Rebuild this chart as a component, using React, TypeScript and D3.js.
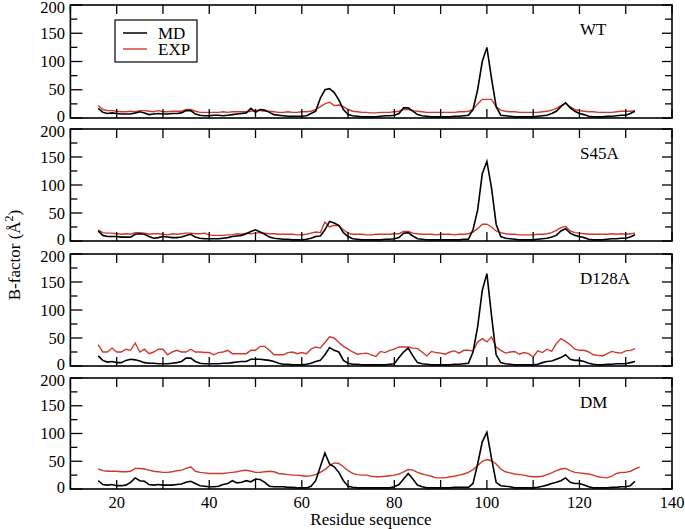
import React from "react";
import * as d3 from "d3";

const START = 16;
const panelNames = ["WT", "S45A", "D128A", "DM"];

const wtMD = [17,10,8,9,8,7,7,7,9,11, 9,6,7,8,7,7,8,8,9,13, 13,7,5,4,4,5,5,4,5,6, 7,8,9,17,10,15,14,10,6,5, 4,3,3,3,3,4,8,12,35,50, 52,45,32,15,6,4,3,2,2,2, 2,3,4,4,5,8,18,18,12,6, 4,3,2,2,2,2,2,3,3,4, 5,15,50,100,125,70,20,5,4,3, 2,2,2,2,2,3,4,5,8,12, 20,27,18,12,8,6,3,2,2,2, 3,3,4,5,5,8,12];
const wtEXP = [22,15,13,13,12,11,11,12,11,13, 13,12,11,13,11,11,12,12,12,15, 15,12,10,10,10,10,10,11,10,11, 11,11,11,12,14,13,12,12,11,10, 10,11,10,10,11,11,12,15,20,25, 28,22,23,20,15,12,11,10,10,9, 9,10,10,10,11,12,15,15,13,12, 11,10,10,10,10,10,10,10,11,11, 12,15,25,33,33,33,20,14,12,11, 11,10,10,10,10,10,11,12,14,17, 22,26,20,15,13,12,11,11,10,10, 10,10,11,12,12,12,13];
const s45aMD = [18,10,8,8,8,7,7,7,12,13, 12,8,5,6,8,7,6,6,7,10, 12,7,5,4,4,4,4,5,6,8, 9,10,13,17,20,16,12,7,5,4, 3,3,2,2,2,3,5,8,9,20, 35,32,28,15,8,4,3,2,2,2, 2,2,3,3,4,6,14,15,9,4, 3,2,2,2,2,2,2,2,2,3, 3,20,55,120,142,95,30,8,5,4, 3,2,2,2,2,3,4,5,7,10, 18,22,14,10,8,6,3,2,2,2, 3,4,4,5,5,7,11];
const s45aEXP = [20,15,14,14,13,12,13,12,15,15, 14,12,13,13,12,11,13,12,13,14, 14,13,13,14,11,10,10,10,11,11, 13,12,14,13,14,15,14,13,13,12, 12,12,12,11,11,12,14,16,15,34, 25,28,27,20,14,12,12,12,11,11, 12,12,12,12,13,13,17,17,14,13, 12,12,12,11,12,12,12,11,12,12, 13,16,22,30,30,25,18,15,13,12, 12,11,11,11,11,12,12,13,15,19, 24,26,18,15,14,13,12,12,12,12, 12,13,12,13,12,13,14];
const d128aMD = [18,10,7,8,6,6,10,12,11,9, 6,5,5,4,4,4,5,6,8,14, 14,8,5,4,4,4,4,5,5,6, 7,8,8,12,12,12,11,10,8,5, 3,3,2,2,2,3,5,8,10,20, 33,28,25,10,5,3,3,2,2,2, 2,2,2,3,4,15,25,32,18,6, 4,3,2,2,2,2,2,3,3,4, 5,25,70,135,165,90,20,6,4,3, 2,2,2,2,2,3,6,8,9,12, 15,20,12,10,10,8,5,3,2,2, 3,3,4,4,4,6,8];
const d128aEXP = [38,25,25,32,25,25,30,28,41,25, 30,22,25,30,30,20,25,28,25,25, 30,25,25,24,24,20,24,25,28,22, 22,22,22,28,28,35,35,28,20,20, 20,24,25,22,24,22,30,34,32,42, 52,50,42,35,30,25,21,22,23,20, 17,26,24,28,30,34,34,34,32,31, 25,18,26,24,23,21,25,27,23,28, 28,27,43,49,43,52,34,28,23,25, 26,21,24,22,16,27,24,30,26,40, 49,44,38,30,28,28,25,20,19,18, 22,26,24,23,27,28,31];
const dmMD = [15,8,7,8,6,6,7,12,20,15, 14,8,7,8,7,7,7,8,9,12, 14,10,6,5,4,4,5,8,10,15, 11,12,15,13,18,17,12,5,4,4, 4,3,3,2,2,2,5,15,40,65, 45,40,30,15,5,3,2,2,2,2, 2,2,2,2,4,8,18,28,18,7, 4,2,2,2,2,2,2,3,3,3, 3,10,45,85,102,55,12,6,5,4, 2,2,2,2,2,3,5,7,10,12, 15,20,12,10,10,7,4,2,2,2, 2,3,3,4,4,6,14];
const dmEXP = [36,33,32,32,32,31,31,32,37,37, 36,34,32,31,30,30,31,33,34,37, 40,32,30,29,28,28,28,28,29,30, 31,33,34,32,30,30,31,32,31,28, 27,26,25,25,24,23,24,26,30,35, 42,47,46,40,33,28,26,25,25,23, 22,22,23,24,25,27,31,35,34,30, 27,25,23,20,20,20,22,23,25,27, 30,35,42,50,53,51,45,36,31,29, 27,26,25,23,22,22,23,26,29,33, 36,37,33,30,29,28,27,25,22,21, 20,23,28,30,30,32,36,40];

const mdSeries = [wtMD, s45aMD, d128aMD, dmMD];
const expSeries = [wtEXP, s45aEXP, d128aEXP, dmEXP];

const xTickValues = [20, 40, 60, 80, 100, 120, 140];
const yTickValues = [0, 50, 100, 150, 200];

const panelTops = [5, 129, 254, 378];
const panelBottoms = [118, 241, 366, 489];

const FONT = "'Liberation Serif', 'Times New Roman', serif";
const RED = "#cc3a2e";

export default function App() {
  const x = d3.scaleLinear().domain([10, 140]).range([70.4, 672]);
  const line = (ys: number[], y: d3.ScaleLinear<number, number>) =>
    d3
      .line<number>()
      .x((_, i) => x(START + i))
      .y((v) => y(v))(ys) || "";

  const labelOffset = (t: number) => (t === 0 ? 3.5 : t === 200 ? 7.5 : 5.5);

  return (
    <svg
      width={685}
      height={529}
      style={{ position: "absolute", left: 0, top: 0, background: "#fff" }}
      fontFamily={FONT}
    >
      <rect width={685} height={529} fill="#fff" />
      {panelNames.map((name, p) => {
        const y = d3.scaleLinear().domain([0, 200]).range([panelBottoms[p], panelTops[p]]);
        const top = panelTops[p];
        const bot = panelBottoms[p];
        const minorY = d3.range(0, 201, 25);
        const xTicks = d3.range(10, 141, 10);
        return (
          <g key={name}>
            <path d={line(expSeries[p], y)} fill="none" stroke={RED} strokeWidth={1.4} />
            <path d={line(mdSeries[p], y)} fill="none" stroke="#000" strokeWidth={1.6} />
            {xTicks.map((t) => (
              <g key={"x" + t}>
                <line x1={x(t)} x2={x(t)} y1={bot} y2={bot - 9} stroke="#000" strokeWidth={1.3} />
                <line x1={x(t)} x2={x(t)} y1={top} y2={top + 9} stroke="#000" strokeWidth={1.3} />
              </g>
            ))}
            {minorY.map((t) => {
              const major = t % 50 === 0;
              return (
                <g key={"y" + t}>
                  <line x1={x(10)} x2={x(10) + (major ? 12 : 7)} y1={y(t)} y2={y(t)} stroke="#000" strokeWidth={1.3} />
                  <line x1={x(140)} x2={x(140) - (major ? 10 : 7)} y1={y(t)} y2={y(t)} stroke="#000" strokeWidth={1.3} />
                </g>
              );
            })}
            {yTickValues.map((t) => (
              <text key={"yl" + t} x={65} y={y(t) + labelOffset(t)} textAnchor="end" fontSize={16.5}>
                {t}
              </text>
            ))}
            <rect x={x(10)} y={top} width={x(140) - x(10)} height={bot - top} fill="none" stroke="#000" strokeWidth={1.6} />
            <text x={580} y={top + 30} fontSize={17}>
              {name}
            </text>
          </g>
        );
      })}
      {xTickValues.map((t) => (
        <text key={"xl" + t} x={x(t)} y={508} textAnchor="middle" fontSize={16.5}>
          {t}
        </text>
      ))}
      <text x={371} y={525} textAnchor="middle" fontSize={17}>
        Residue sequence
      </text>
      <text transform="translate(20,255) rotate(-90)" textAnchor="middle" fontSize={17}>
        B-factor (Å
        <tspan dy={-7} fontSize={12}>2</tspan>
        <tspan dy={7}>)</tspan>
      </text>
      <g>
        <rect x={115} y={20} width={82} height={42} fill="#fff" stroke="#000" strokeWidth={1.2} />
        <line x1={123} x2={147} y1={33} y2={33} stroke="#000" strokeWidth={1.5} />
        <line x1={123} x2={147} y1={49} y2={49} stroke={RED} strokeWidth={1.4} />
        <text x={158} y={39} fontSize={17}>MD</text>
        <text x={158} y={55} fontSize={17}>EXP</text>
      </g>
    </svg>
  );
}
